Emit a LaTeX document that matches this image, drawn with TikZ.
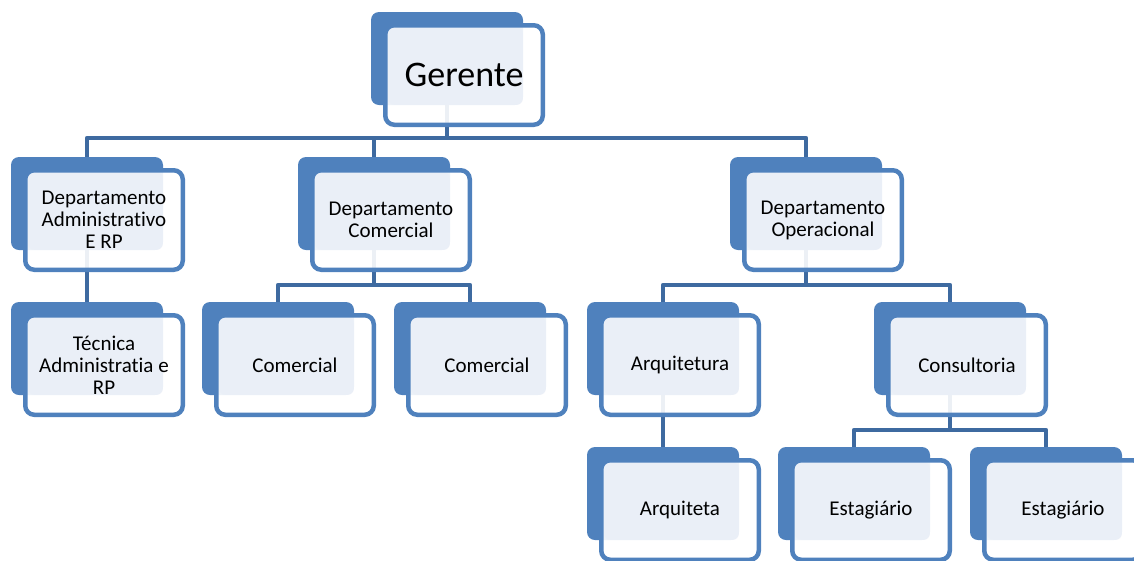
\documentclass[tikz,border=0pt]{standalone}
\usepackage{fontspec}
\setmainfont{Carlito}[Ligatures=NoCommon]
\usepackage{tikz}
\usetikzlibrary{calc, backgrounds}
\definecolor{BoxBlue}{HTML}{4F81BD}
\definecolor{LineBlue}{RGB}{62,106,160}
\definecolor{InnerFill}{HTML}{EAEFF7}

\begin{document}
\begin{tikzpicture}[
    x=1pt, y=-1pt,
    backbox/.style={
        rectangle, rounded corners=8pt, minimum width=152pt,
        minimum height=93pt, fill=BoxBlue, inner sep=0pt, outer sep=0pt
    },
    frontbox/.style={
        rectangle, rounded corners=9pt, minimum width=157.5pt,
        minimum height=99.5pt, draw=BoxBlue, line width=4.5pt,
        fill=white, fill opacity=0.9, text opacity=1, align=center,
        inner sep=2pt, font=\fontsize{21}{22}\selectfont,
        anchor=north west,
        path picture={
            \fill[InnerFill, fill opacity=1, rounded corners=6pt]
                ($(path picture bounding box.north west)+(3,2)$) rectangle
                ($(path picture bounding box.south east)+(-20,-20)$);
        }
    },
    conn/.style={draw=LineBlue, line width=4.5pt, line join=round}
]
\useasboundingbox (0,0) rectangle (1134,560);
\clip (0,0) rectangle (1134,560);

% ===================================================================
% Top: manager
% ===================================================================
\node[backbox] (gerenteB) at (447,58.5) {};
\node[frontbox, font=\fontsize{36}{40}\selectfont] (gerente)
    at ([shift={(12,11)}]gerenteB.north west) {Gerente};

% ===================================================================
% Departments
% ===================================================================
\node[backbox] (admB) at (87,203.5) {};
\node[frontbox] (adm) at ([shift={(12,11)}]admB.north west)
    {Departamento\\Administrativo\\E RP};

\node[backbox] (comB) at (374,203.5) {};
\node[frontbox] (com) at ([shift={(12,11)}]comB.north west)
    {Departamento\\Comercial};

\node[backbox] (opB) at (806,203.5) {};
\node[frontbox] (op) at ([shift={(12,11)}]opB.north west)
    {Departamento\\Operacional};

% ===================================================================
% Third row
% ===================================================================
\node[backbox] (tecB) at (87,348.5) {};
\node[frontbox] (tec) at ([shift={(12,11)}]tecB.north west)
    {Técnica\\Administratia e\\RP};

\node[backbox] (comAB) at (278,348.5) {};
\node[frontbox] (comA) at ([shift={(12,11)}]comAB.north west) {Comercial};

\node[backbox] (comBB) at (470,348.5) {};
\node[frontbox] (comBx) at ([shift={(12,11)}]comBB.north west) {Comercial};

\node[backbox] (arqB) at (663,348.5) {};
\node[frontbox] (arq) at ([shift={(12,11)}]arqB.north west) {Arquitetura};

\node[backbox] (consB) at (950,348.5) {};
\node[frontbox] (cons) at ([shift={(12,11)}]consB.north west) {Consultoria};

% ===================================================================
% Bottom row
% ===================================================================
\node[backbox] (arqtaB) at (663,493.5) {};
\node[frontbox] (arqta) at ([shift={(12,11)}]arqtaB.north west) {Arquiteta};

\node[backbox] (estAB) at (854,493.5) {};
\node[frontbox] (estA) at ([shift={(12,11)}]estAB.north west) {Estagiário};

\node[backbox] (estBB) at (1046,493.5) {};
\node[frontbox] (estB) at ([shift={(12,11)}]estBB.north west) {Estagiário};

% Connectors (behind the boxes)
\coordinate (bus1) at (0,138);
\coordinate (bus2) at (0,285);
\coordinate (bus3) at (0,430);

\begin{pgfonlayer}{background}
    \draw[conn] (gerenteB.south) -- (gerenteB.south |- bus1) -| (admB.north);
    \draw[conn] (gerenteB.south |- bus1) -| (comB.north);
    \draw[conn] (gerenteB.south |- bus1) -| (opB.north);

    \draw[conn] (admB.south) -- (tecB.north);

    \draw[conn] (comB.south) -- (comB.south |- bus2) -| (comAB.north);
    \draw[conn] (comB.south |- bus2) -| (comBB.north);

    \draw[conn] (opB.south) -- (opB.south |- bus2) -| (arqB.north);
    \draw[conn] (opB.south |- bus2) -| (consB.north);

    \draw[conn] (arqB.south) -- (arqtaB.north);

    \draw[conn] (consB.south) -- (consB.south |- bus3) -| (estAB.north);
    \draw[conn] (consB.south |- bus3) -| (estBB.north);
\end{pgfonlayer}

\end{tikzpicture}
\end{document}
